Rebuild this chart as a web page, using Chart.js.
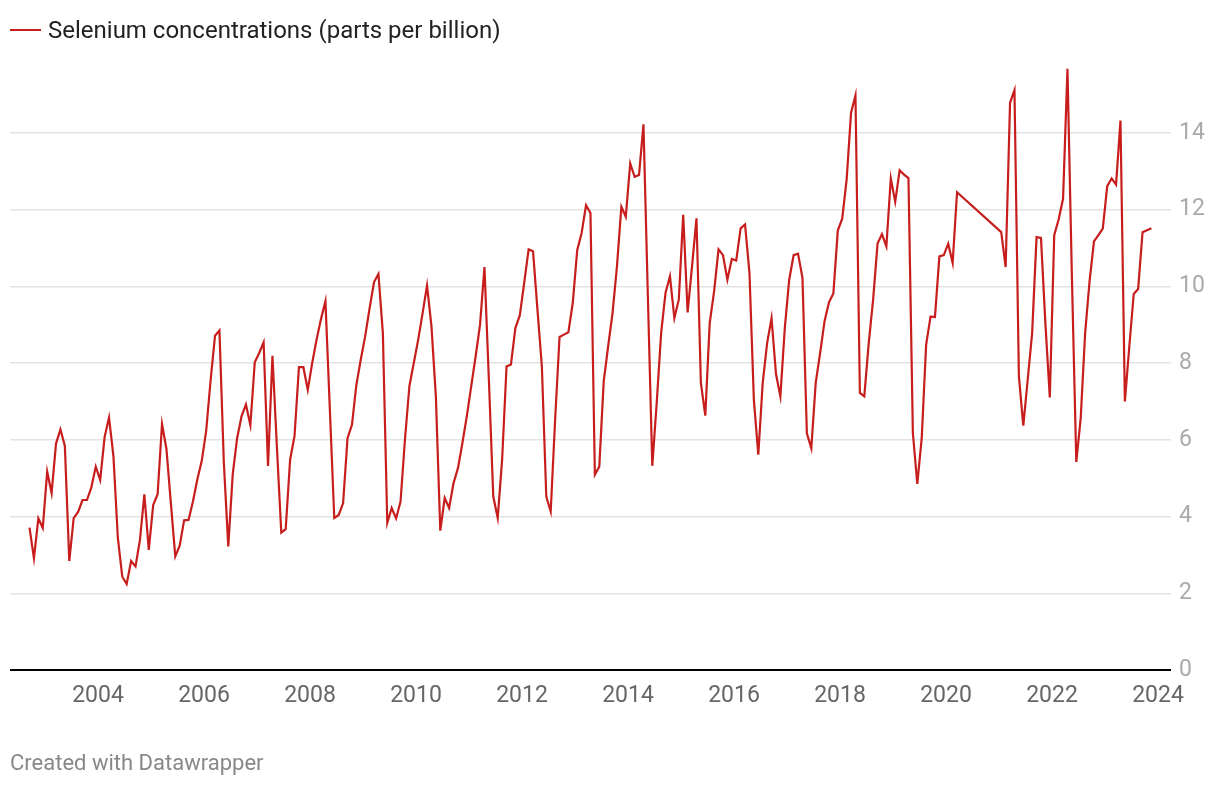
<!DOCTYPE html>
<html>
<head>
<meta charset="utf-8">
<script src="https://cdn.jsdelivr.net/npm/chart.js@4.4.0/dist/chart.umd.min.js"></script>
<style>
  html, body { margin: 0; padding: 0; background: #fff; }
  body { width: 1220px; height: 786px; position: relative; overflow: hidden; font-family: Roboto, "Noto Sans", sans-serif; }
  #wrap { position: absolute; left: 0; top: 0; width: 1220px; height: 786px; }
  #legend { position: absolute; left: 10px; top: 15px; height: 30px; display: flex; align-items: center; font-size: 24px; color: #222; white-space: nowrap; }
  #legend .swatch { width: 31px; height: 2px; background: #c71e1d; margin-right: 7px; }
  #footer { position: absolute; left: 10px; top: 749px; font-size: 22px; line-height: 28px; color: #888; white-space: nowrap; }
</style>
</head>
<body>
<div id="wrap"><canvas id="c" width="1220" height="786"></canvas></div>
<div id="legend"><span class="swatch"></span><span id="legendText"></span></div>
<div id="footer">Created with Datawrapper</div>
<script>
const seriesLabel = "Selenium concentrations (parts per billion)";

const months = [
  "2002-09","2002-10","2002-11","2002-12",
  "2003-01","2003-02","2003-03","2003-04","2003-05","2003-06","2003-07","2003-08","2003-09","2003-10","2003-11","2003-12",
  "2004-01","2004-02","2004-03","2004-04","2004-05","2004-06","2004-07","2004-08","2004-09","2004-10","2004-11","2004-12",
  "2005-01","2005-02","2005-03","2005-04","2005-05","2005-06","2005-07","2005-08","2005-09","2005-10","2005-11","2005-12",
  "2006-01","2006-02","2006-03","2006-04","2006-05","2006-06","2006-07","2006-08","2006-09","2006-10","2006-11","2006-12",
  "2007-01","2007-02","2007-03","2007-04","2007-05","2007-06","2007-07","2007-08","2007-09","2007-10","2007-11","2007-12",
  "2008-01","2008-02","2008-03","2008-04","2008-05","2008-06","2008-07","2008-08","2008-09","2008-10","2008-11","2008-12",
  "2009-01","2009-02","2009-03","2009-04","2009-05","2009-06","2009-07","2009-08","2009-09","2009-10","2009-11","2009-12",
  "2010-01","2010-02","2010-03","2010-04","2010-05","2010-06","2010-07","2010-08","2010-09","2010-10","2010-11","2010-12",
  "2011-01","2011-02","2011-03","2011-04","2011-05","2011-06","2011-07","2011-08","2011-09","2011-10","2011-11","2011-12",
  "2012-01","2012-02","2012-03","2012-04","2012-05","2012-06","2012-07","2012-08","2012-09","2012-10","2012-11","2012-12",
  "2013-01","2013-02","2013-03","2013-04","2013-05","2013-06","2013-07","2013-08","2013-09","2013-10","2013-11","2013-12",
  "2014-01","2014-02","2014-03","2014-04","2014-05","2014-06","2014-07","2014-08","2014-09","2014-10","2014-11","2014-12",
  "2015-01","2015-02","2015-03","2015-04","2015-05","2015-06","2015-07","2015-08","2015-09","2015-10","2015-11","2015-12",
  "2016-01","2016-02","2016-03","2016-04","2016-05","2016-06","2016-07","2016-08","2016-09","2016-10","2016-11","2016-12",
  "2017-01","2017-02","2017-03","2017-04","2017-05","2017-06","2017-07","2017-08","2017-09","2017-10","2017-11","2017-12",
  "2018-01","2018-02","2018-03","2018-04","2018-05","2018-06","2018-07","2018-08","2018-09","2018-10","2018-11","2018-12",
  "2019-01","2019-02","2019-03","2019-04","2019-05","2019-06","2019-07","2019-08","2019-09","2019-10","2019-11","2019-12",
  "2020-01","2020-02","2020-03",
  "2021-01","2021-02","2021-03","2021-04","2021-05","2021-06","2021-07","2021-08","2021-09","2021-10","2021-11","2021-12",
  "2022-01","2022-02","2022-03","2022-04","2022-05","2022-06","2022-07","2022-08","2022-09","2022-10","2022-11","2022-12",
  "2023-01","2023-02","2023-03","2023-04","2023-05","2023-06","2023-07","2023-08","2023-09","2023-10","2023-11"
];

const selenium = [
  3.71, 2.91, 3.95, 3.70,
  5.17, 4.61, 5.90, 6.27, 5.84, 2.84, 3.96, 4.12, 4.43, 4.43, 4.76, 5.30,
  4.95, 6.07, 6.58, 5.57, 3.44, 2.43, 2.24, 2.84, 2.70, 3.39, 4.58, 3.13,
  4.30, 4.58, 6.41, 5.76, 4.35, 2.96, 3.24, 3.90, 3.91, 4.39, 4.97, 5.45,
  6.24, 7.55, 8.71, 8.85, 5.39, 3.22, 5.09, 6.04, 6.61, 6.92, 6.38, 8.02,
  8.26, 8.54, 5.32, 8.19, 5.83, 3.58, 3.67, 5.48, 6.10, 7.89, 7.89, 7.30,
  8.00, 8.61, 9.15, 9.61, 6.78, 3.96, 4.04, 4.35, 6.04, 6.39, 7.43, 8.09,
  8.70, 9.43, 10.11, 10.32, 8.78, 3.83, 4.22, 3.95, 4.39, 6.00, 7.39, 8.00,
  8.61, 9.30, 10.02, 8.96, 7.13, 3.63, 4.48, 4.22, 4.87, 5.26, 5.91, 6.61,
  7.39, 8.17, 9.00, 10.50, 7.57, 4.52, 3.96, 5.48, 7.91, 7.96, 8.91, 9.24,
  10.09, 10.96, 10.91, 9.39, 7.91, 4.52, 4.13, 6.52, 8.68, 8.74, 8.80, 9.57,
  10.94, 11.39, 12.11, 11.91, 5.09, 5.30, 7.52, 8.43, 9.30, 10.52, 12.07, 11.81,
  13.20, 12.85, 12.90, 14.22, 9.74, 5.32, 6.96, 8.78, 9.83, 10.26, 9.17, 9.65,
  11.86, 9.32, 10.52, 11.77, 7.48, 6.63, 9.04, 9.87, 10.96, 10.81, 10.17, 10.71,
  10.67, 11.51, 11.61, 10.35, 7.04, 5.61, 7.48, 8.52, 9.17, 7.72, 7.13, 8.91,
  10.17, 10.81, 10.85, 10.22, 6.17, 5.78, 7.48, 8.26, 9.09, 9.58, 9.81, 11.45,
  11.76, 12.78, 14.52, 14.97, 7.22, 7.13, 8.52, 9.65, 11.11, 11.36, 11.04, 12.81,
  12.20, 13.02, 12.91, 12.82, 6.17, 4.85, 6.04, 8.48, 9.21, 9.20, 10.78, 10.81,
  11.11, 10.61, 12.45,
  11.41, 10.50, 14.78, 15.11, 7.65, 6.37, 7.57, 8.78, 11.28, 11.26, 9.04, 7.10,
  11.33, 11.74, 12.28, 15.67, 10.26, 5.42, 6.57, 8.78, 10.13, 11.17, 11.33, 11.50,
  12.61, 12.81, 12.65, 14.32, 7.00, 8.43, 9.80, 9.93, 11.41, 11.46, 11.51
];

const xTickYears = [2004, 2006, 2008, 2010, 2012, 2014, 2016, 2018, 2020, 2022, 2024];
const yTickValues = [0, 2, 4, 6, 8, 10, 12, 14];

document.getElementById('legendText').textContent = seriesLabel;

function toDecimalYear(s) {
  const [y, m] = s.split('-').map(Number);
  return y + (m - 0.5) / 12;
}
const points = months.map((m, i) => ({ x: toDecimalYear(m), y: selenium[i] }));

const FONT = 'Roboto, "Noto Sans", sans-serif';

new Chart(document.getElementById('c'), {
  type: 'line',
  data: {
    datasets: [{
      label: seriesLabel,
      data: points,
      borderColor: '#c71e1d',
      backgroundColor: '#c71e1d',
      borderWidth: 2.2,
      pointRadius: 0,
      pointHoverRadius: 0,
      tension: 0,
      fill: false
    }]
  },
  options: {
    responsive: false,
    animation: false,
    devicePixelRatio: 1,
    layout: { padding: { left: 10, top: 56, right: 0, bottom: 76 } },
    plugins: { legend: { display: false }, tooltip: { enabled: false } },
    scales: {
      x: {
        type: 'linear',
        min: 2002.34,
        max: 2024.245,
        afterFit: s => { s.height = 40; },
        afterBuildTicks: s => { s.ticks = xTickYears.map(v => ({ value: v })); },
        grid: { display: false, drawTicks: false },
        border: { display: false },
        ticks: {
          padding: 12,
          maxRotation: 0,
          autoSkip: false,
          color: '#666',
          font: { family: FONT, size: 23 },
          callback: v => String(v)
        }
      },
      y: {
        position: 'right',
        min: 0,
        max: 16,
        afterFit: s => { s.width = 49; },
        afterBuildTicks: s => { s.ticks = yTickValues.map(v => ({ value: v })); },
        grid: {
          drawTicks: false,
          color: ctx => (ctx.tick && ctx.tick.value === 0) ? '#000' : '#e3e3e3',
          lineWidth: ctx => (ctx.tick && ctx.tick.value === 0) ? 2 : 1.5
        },
        border: { display: false },
        ticks: {
          padding: 8,
          color: '#aaa',
          font: { family: FONT, size: 23 },
          callback: v => String(v)
        }
      }
    }
  }
});
</script>
</body>
</html>
